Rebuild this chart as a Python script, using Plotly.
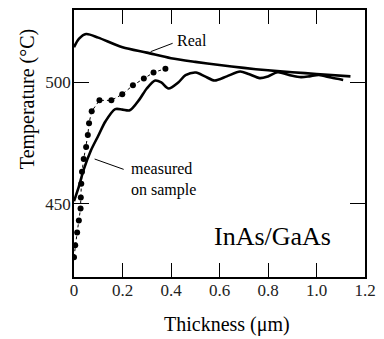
import plotly.graph_objects as go

# Real temperature
real_x = [0.0, 0.02, 0.05, 0.1, 0.2, 0.3, 0.4, 0.5, 0.6, 0.7, 0.8, 0.9, 1.0, 1.14]
real_t = [514.5, 518.0, 520.0, 518.5, 514.5, 512.3, 510.0, 508.5, 507.2, 506.0, 505.0, 504.2, 503.5, 502.5]

# Measured (solid wavy)
meas_x = [0.0, 0.02, 0.04, 0.07, 0.1, 0.13, 0.17, 0.2, 0.23, 0.27, 0.3, 0.335, 0.36, 0.39,
          0.43, 0.46, 0.503, 0.54, 0.58, 0.63, 0.685, 0.72, 0.766, 0.8, 0.84, 0.89, 0.936,
          0.97, 1.01, 1.06, 1.11]
meas_t = [451.0, 457.0, 464.0, 472.0, 478.0, 484.0, 489.0, 488.8, 488.5, 493.0, 497.5, 500.8,
          500.0, 497.5, 500.0, 503.0, 504.1, 502.5, 500.8, 502.5, 504.5, 503.5, 501.8, 502.5,
          504.2, 503.0, 502.2, 502.5, 503.1, 502.0, 501.0]

# Measured on sample (dotted with markers)
dot_x = [0.0, 0.005, 0.013, 0.02, 0.027, 0.028, 0.03, 0.033, 0.04, 0.05, 0.057, 0.062,
         0.073, 0.105, 0.154, 0.199, 0.243, 0.288, 0.328, 0.377]
dot_t = [427.9, 432.8, 438.1, 443.0, 448.0, 452.5, 458.2, 463.1, 468.4, 473.4, 478.3, 483.2,
         488.1, 492.6, 492.6, 495.1, 498.8, 501.6, 504.1, 505.7]

x_ticks = [0, 0.2, 0.4, 0.6, 0.8, 1.0, 1.2]
x_ticklabels = ["0", "0.2", "0.4", "0.6", "0.8", "1.0", "1.2"]
y_ticks = [450, 500]
y_ticklabels = ["450", "500"]

FONT = "Liberation Serif"

fig = go.Figure()
fig.add_trace(go.Scatter(x=real_x, y=real_t, mode="lines",
                         line=dict(color="black", width=2.6, shape="spline", smoothing=0.8)))
fig.add_trace(go.Scatter(x=meas_x, y=meas_t, mode="lines",
                         line=dict(color="black", width=2.6, shape="spline", smoothing=0.8)))
fig.add_trace(go.Scatter(x=dot_x, y=dot_t, mode="lines+markers",
                         line=dict(color="black", width=1, dash="dot"),
                         marker=dict(color="black", size=6)))

fig.update_layout(
    width=384, height=339,
    margin=dict(l=74, r=14, t=8, b=62),
    paper_bgcolor="white", plot_bgcolor="white",
    showlegend=False,
    font=dict(family=FONT, color="black", size=17),
    xaxis=dict(range=[0, 1.2], tickvals=x_ticks, ticktext=x_ticklabels,
               ticks="inside", ticklen=14, tickwidth=1.2, tickcolor="black",
               showline=True, linecolor="black", linewidth=1.5, mirror="ticks",
               ticklabelstandoff=-3,
               showgrid=False, zeroline=False, tickfont=dict(size=17, family=FONT, color="#222")),
    yaxis=dict(range=[419.7, 529.9], tickvals=y_ticks, ticktext=y_ticklabels,
               ticks="inside", ticklen=15, tickwidth=1.2, tickcolor="black",
               showline=True, linecolor="black", linewidth=1.5, mirror="ticks",
               ticklabelstandoff=-2,
               showgrid=False, zeroline=False, tickfont=dict(size=17, family=FONT, color="#222")),
    annotations=[
        dict(x=0.316, y=512.7, ax=0.413, ay=516.4, xref="x", yref="y", axref="x", ayref="y",
             text="", showarrow=True, arrowhead=0, arrowwidth=1, arrowcolor="black"),
        dict(x=0.417, y=517.2, xref="x", yref="y", text="Real", showarrow=False,
             xanchor="left", yanchor="middle", font=dict(size=16, family=FONT)),
        dict(x=0.085, y=468.4, ax=0.211, ay=463.9, xref="x", yref="y", axref="x", ayref="y",
             text="", showarrow=True, arrowhead=0, arrowwidth=1, arrowcolor="black"),
        dict(x=0.227, y=459.8, xref="x", yref="y", text="measured<br>on sample", showarrow=False,
             xanchor="left", yanchor="middle", align="left", font=dict(size=16, family=FONT)),
        dict(x=0.819, y=436.5, xref="x", yref="y", text="InAs/GaAs", showarrow=False,
             xanchor="center", yanchor="middle", font=dict(size=26, family=FONT)),
        dict(x=0.527, y=-0.178, xref="paper", yref="paper", text="Thickness (\u03bcm)",
             showarrow=False, xanchor="center", yanchor="middle", font=dict(size=20, family=FONT)),
        dict(x=-0.159, y=0.665, xref="paper", yref="paper", text="Temperature (\u00b0C)",
             showarrow=False, xanchor="center", yanchor="middle", textangle=-90,
             font=dict(size=20, family=FONT)),
    ],
)

fig.write_html("out.html")
